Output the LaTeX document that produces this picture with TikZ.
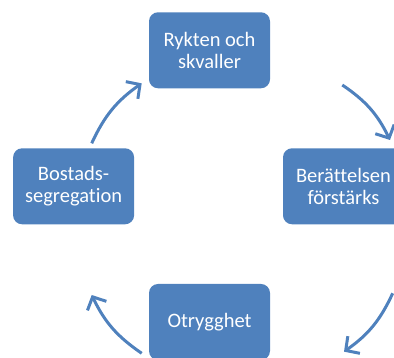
\documentclass[tikz,border=0pt]{standalone}
\usepackage{fontspec}
\setmainfont[Ligatures=NoCommon]{Carlito}
\usetikzlibrary{arrows.meta}
\definecolor{boxblue}{RGB}{79,129,189}

\begin{document}
\begin{tikzpicture}[x=1pt,y=1pt,
    box/.style={fill=boxblue, rounded corners=9pt, minimum width=121pt,
      minimum height=76pt, inner sep=0pt, text=white, align=center,
      font=\fontsize{20.5}{22}\selectfont},
    cycarrow/.style={draw=boxblue, line width=3pt, bend left=15,
      -{Straight Barb[length=10pt,width=21pt]}}]
    \clip (0,0) rectangle (394,358);
    % the four steps
    \node[box] (rykten) at (209.5,307.7) {Rykten och\\skvaller};
    \node[box] (berattelse) at (343.5,171.7) {Berättelsen\\förstärks};
    \node[box] (otrygghet) at (209.5,36) {Otrygghet};
    \node[box] (segregation) at (73.6,171.7) {Bostads-\\segregation};
    % arrow ends
    \coordinate (segToRyk) at (91.7,214.7);
    \coordinate (rykFromSeg) at (141.7,274.7);
    \coordinate (rykToBer) at (342.3,273);
    \coordinate (berFromRyk) at (390,218);
    \coordinate (berToOtr) at (392.7,64.7);
    \coordinate (otrFromBer) at (344,6.3);
    \coordinate (otrToSeg) at (141.7,4.7);
    \coordinate (segFromOtr) at (91.7,63);
    \draw[cycarrow] (segToRyk) to (rykFromSeg);
    \draw[cycarrow] (rykToBer) to (berFromRyk);
    \draw[cycarrow] (berToOtr) to (otrFromBer);
    \draw[cycarrow] (otrToSeg) to (segFromOtr);
\end{tikzpicture}
\end{document}
